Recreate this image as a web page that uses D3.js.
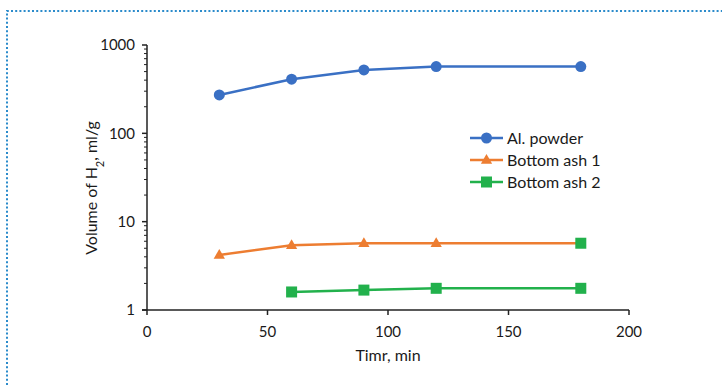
<!DOCTYPE html>
<html>
<head>
<meta charset="utf-8">
<script src="https://cdn.jsdelivr.net/npm/d3@7"></script>
<style>
  body { margin: 0; background: #fff; }
  text { font-family: Lato, "Liberation Sans", sans-serif; fill: #1a1a1a; }
</style>
</head>
<body>
<div id="chart"></div>
<script>
// data
var times = [30, 60, 90, 120, 180];
var alPowder = [272, 410, 522, 570, 570];
var ash1 = [4.2, 5.4, 5.7, 5.7, 5.7];
var ash1Markers = ["triangle", "triangle", "triangle", "triangle", "square"];
var ash2Times = [60, 90, 120, 180];
var ash2 = [1.6, 1.68, 1.76, 1.76];
var xTicks = [0, 50, 100, 150, 200];
var yTicks = [1, 10, 100, 1000];

var series = [
  {name: "Al. powder", x: times, y: alPowder, color: "#3a70c4", marker: "circle"},
  {name: "Bottom ash 1", x: times, y: ash1, color: "#ed7d31", marker: "triangle", markers: ash1Markers},
  {name: "Bottom ash 2", x: ash2Times, y: ash2, color: "#22b14c", marker: "square"}
];
var markerColor = {circle: "#3a70c4", triangle: "#ed7d31", square: "#22b14c"};

var W = 722, H = 385;
var margin = {top: 45, right: 93, bottom: 75, left: 147};

var svg = d3.select("#chart").append("svg")
  .attr("width", W)
  .attr("height", H);

// dotted frame
svg.append("path")
  .attr("d", "M7,385 L7,11 L722,11")
  .attr("fill", "none")
  .attr("stroke", "#2b8bcb")
  .attr("stroke-width", 2)
  .attr("stroke-dasharray", "2,2.2");

var x = d3.scaleLinear().domain([0, 200]).range([margin.left, W - margin.right]);
var y = d3.scaleLog().domain([1, 1000]).range([H - margin.bottom, margin.top]);

// y axis, major + minor ticks on the left
var minor = [];
for (var d = 1; d < 1000; d *= 10) {
  for (var k = 2; k < 10; k++) minor.push(d * k);
}
var yAxis = svg.append("g")
  .attr("transform", "translate(" + x(0) + ",0)");
yAxis.append("line")
  .attr("y1", y(1)).attr("y2", y(1000))
  .attr("stroke", "#222").attr("stroke-width", 1.5);
yAxis.selectAll(".major")
  .data(yTicks).enter().append("line")
  .attr("x1", -5).attr("x2", 0)
  .attr("y1", function(d) { return y(d); })
  .attr("y2", function(d) { return y(d); })
  .attr("stroke", "#222").attr("stroke-width", 1.5);
yAxis.selectAll(".minor")
  .data(minor).enter().append("line")
  .attr("x1", -3).attr("x2", 0)
  .attr("y1", function(d) { return y(d); })
  .attr("y2", function(d) { return y(d); })
  .attr("stroke", "#222").attr("stroke-width", 1);
yAxis.selectAll(".lab")
  .data(yTicks).enter().append("text")
  .attr("x", -12)
  .attr("y", function(d) { return y(d); })
  .attr("dy", "0.35em")
  .attr("text-anchor", "end")
  .style("font-size", "15px")
  .text(function(d) { return d; });

// x axis
var xAxis = svg.append("g")
  .attr("transform", "translate(0," + y(1) + ")");
xAxis.append("line")
  .attr("x1", x(0) - 5).attr("x2", x(200))
  .attr("stroke", "#222").attr("stroke-width", 1.5);
xAxis.selectAll(".tick")
  .data(xTicks).enter().append("line")
  .attr("x1", function(d) { return x(d); })
  .attr("x2", function(d) { return x(d); })
  .attr("y1", 0).attr("y2", 5)
  .attr("stroke", "#222").attr("stroke-width", 1.5);
xAxis.selectAll(".lab")
  .data(xTicks).enter().append("text")
  .attr("x", function(d) { return x(d); })
  .attr("y", 27)
  .attr("text-anchor", "middle")
  .style("font-size", "15px")
  .text(function(d) { return d; });

// axis titles
svg.append("text")
  .attr("x", (x(0) + x(200)) / 2)
  .attr("y", 361)
  .attr("text-anchor", "middle")
  .style("font-size", "16px")
  .text("Timr, min");

var yt = svg.append("text")
  .attr("transform", "translate(97,188) rotate(-90)")
  .attr("text-anchor", "middle")
  .style("font-size", "16px");
yt.append("tspan").text("Volume of H");
yt.append("tspan").attr("baseline-shift", "sub").style("font-size", "11px").text("2");
yt.append("tspan").text(", ml/g");

function drawMarker(g, type, cx, cy) {
  if (type == "circle") {
    g.append("circle").attr("cx", cx).attr("cy", cy).attr("r", 5.5)
      .attr("fill", markerColor.circle);
  } else if (type == "triangle") {
    g.append("path")
      .attr("d", d3.symbol().type(d3.symbolTriangle).size(55))
      .attr("transform", "translate(" + cx + "," + (cy + 0.5) + ")")
      .attr("fill", markerColor.triangle);
  } else {
    g.append("rect").attr("x", cx - 5.5).attr("y", cy - 5.5)
      .attr("width", 11).attr("height", 11)
      .attr("fill", markerColor.square);
  }
}

var line = d3.line()
  .x(function(d) { return x(d[0]); })
  .y(function(d) { return y(d[1]); });

series.forEach(function(s) {
  var pts = s.x.map(function(t, i) { return [t, s.y[i]]; });
  var g = svg.append("g");
  g.append("path")
    .attr("d", line(pts))
    .attr("fill", "none")
    .attr("stroke", s.color)
    .attr("stroke-width", 2.5);
  pts.forEach(function(p, i) {
    var m = s.markers ? s.markers[i] : s.marker;
    drawMarker(g, m, x(p[0]), y(p[1]));
  });
});

// legend
var lg = svg.append("g").attr("transform", "translate(470,138)");
series.forEach(function(s, i) {
  var row = lg.append("g").attr("transform", "translate(0," + (i * 22) + ")");
  row.append("line").attr("x1", 0).attr("x2", 33)
    .attr("stroke", s.color).attr("stroke-width", 2.5);
  drawMarker(row, s.marker, 16.5, 0);
  row.append("text")
    .attr("x", 37).attr("dy", "0.35em")
    .style("font-size", "16px")
    .text(s.name);
});
</script>
</body>
</html>
